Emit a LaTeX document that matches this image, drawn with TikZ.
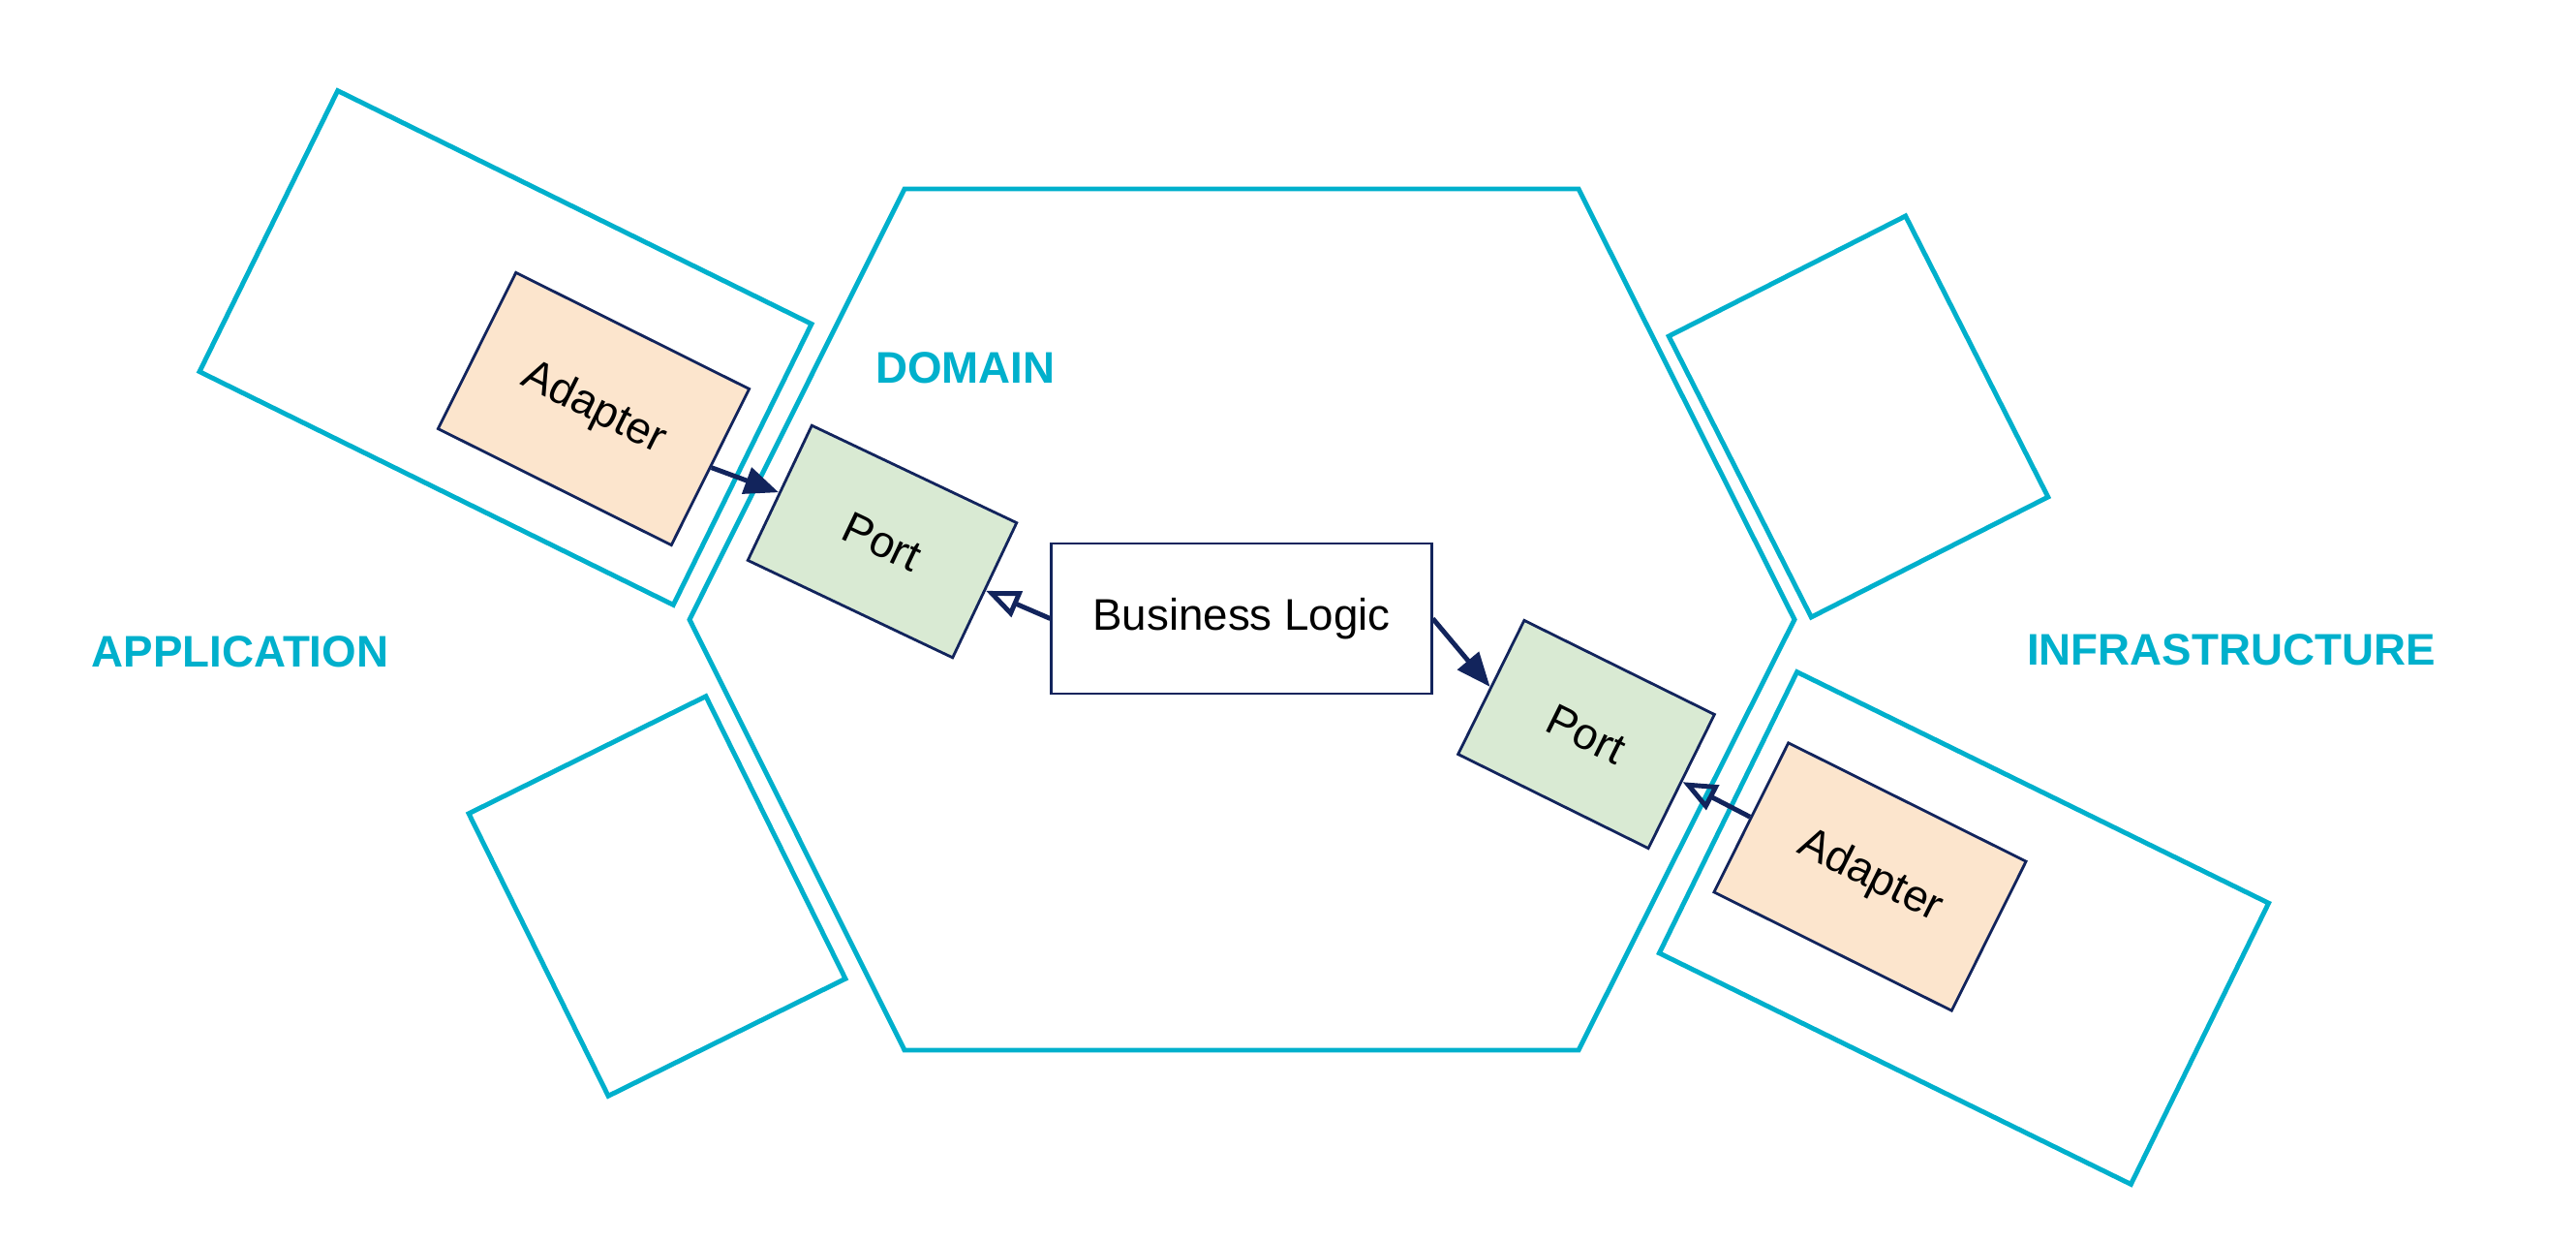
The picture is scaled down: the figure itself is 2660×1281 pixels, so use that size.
\documentclass[tikz,border=0pt]{standalone}
\usepackage{fontspec}
\setmainfont{Liberation Sans}
\usetikzlibrary{arrows.meta}
\definecolor{hexcyan}{RGB}{0,176,204}
\definecolor{navy}{RGB}{18,36,92}
\definecolor{adapterfill}{RGB}{252,229,205}
\definecolor{portfill}{RGB}{217,234,211}

\begin{document}
\begin{tikzpicture}[x=0.01cm,y=0.01cm,
  layer/.style={draw=hexcyan, line width=1.4pt, line join=miter},
  zone/.style={layer, rectangle, inner sep=0pt},
  box/.style={draw=navy, line width=0.8pt, inner sep=0pt, font=\fontsize{13}{15}\selectfont},
  adapterbox/.style={box, fill=adapterfill},
  portbox/.style={box, fill=portfill},
  label/.style={text=hexcyan, font=\fontsize{13}{15}\selectfont\bfseries},
  call/.style={draw=navy, line width=1.4pt, -{Triangle[length=10pt,width=8pt]}},
  impl/.style={draw=navy, line width=1.4pt, -{Triangle[open,length=10pt,width=8pt]}}]

% canvas
\fill[white] (0,0) rectangle (2660,-1281);
\useasboundingbox (0,0) rectangle (2660,-1281);

% domain hexagon
\draw[layer] (934,-195) -- (1630,-195) -- (1853,-639.5) -- (1630,-1084)
  -- (934,-1084) -- (712,-639.5) -- cycle;

% outer zones around the hexagon
\node[zone, rotate=-26.2, minimum width=5.45cm, minimum height=3.23cm] (appzone) at (522,-359) {};
\node[zone, rotate=-26.1, minimum width=5.42cm, minimum height=3.23cm] (infzone) at (2028,-958) {};
\node[zone, rotate=26.9, minimum width=2.74cm, minimum height=3.25cm] (upperzone) at (1919,-430) {};
\node[zone, rotate=26.3, minimum width=2.73cm, minimum height=3.25cm] (lowerzone) at (678.5,-925) {};

% components
\node[adapterbox, rotate=-26.5, minimum width=2.69cm, minimum height=1.80cm] (appadapter) at (613,-422) {Adapter};
\node[portbox, rotate=-25.4, minimum width=2.34cm, minimum height=1.54cm] (lport) at (911,-559) {Port};
\node[box, minimum width=3.92cm, minimum height=1.55cm] (logic) at (1282,-638.5) {Business Logic};
\node[portbox, rotate=-26.3, minimum width=2.19cm, minimum height=1.54cm] (rport) at (1638,-758) {Port};
\node[adapterbox, rotate=-26.5, minimum width=2.74cm, minimum height=1.72cm] (infadapter) at (1931,-905) {Adapter};

% layer labels
\node[label] (domain) at (997,-380) {DOMAIN};
\node[label] (application) at (248,-673) {APPLICATION};
\node[label] (infrastructure) at (2304,-671) {INFRASTRUCTURE};

% dependencies
\draw[call] (appadapter.east) -- (lport.west);
\draw[impl] (logic.west) -- (lport.east);
\draw[call] (logic.east) -- (rport.west);
\draw[impl] (infadapter.west) -- (rport.east);
\end{tikzpicture}
\end{document}
